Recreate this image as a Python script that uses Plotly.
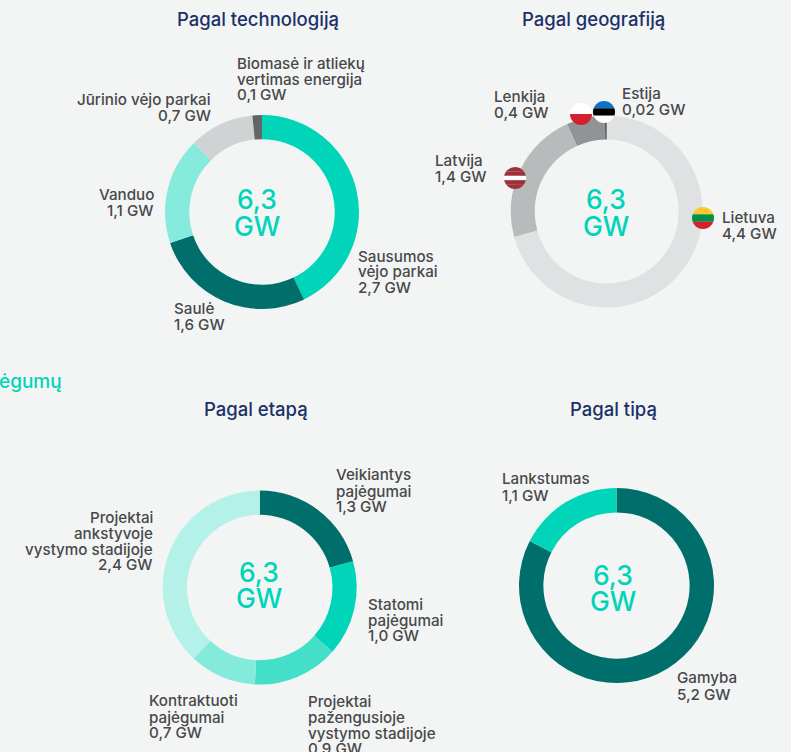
import base64
import plotly.graph_objects as go

W, H = 791, 752
BG = "#f3f5f4"
TEAL = "#00d4b9"
DARK = "#006f6b"
TITLE = "#1c3168"
TEXT = "#48484b"
FONT = "Inter"

# Values (read from the ring arcs)
tech_names = ["Sausumos vėjo parkai", "Saulė", "Vanduo", "Jūrinio vėjo parkai", "Biomasė ir atliekų vertimas energija"]
tech_values = [2.70, 1.70, 1.12, 0.68, 0.10]
tech_colors = [TEAL, DARK, "#86ebdc", "#d1d2d4", "#636466"]

geo_names = ["Lietuva", "Latvija", "Lenkija", "Estija"]
geo_values = [4.4, 1.4, 0.4, 0.02]
geo_colors = ["#e0e1e3", "#b9babc", "#929396", "#58595b"]

stage_names = ["Veikiantys pajėgumai", "Statomi pajėgumai", "Projektai pažengusioje vystymo stadijoje",
               "Kontraktuoti pajėgumai", "Projektai ankstyvoje vystymo stadijoje"]
stage_values = [1.3, 1.0, 0.9, 0.7, 2.4]
stage_colors = [DARK, TEAL, "#43dfc9", "#84ebdc", "#b4f1e8"]

type_names = ["Gamyba", "Lankstumas"]
type_values = [5.2, 1.1]
type_colors = [DARK, TEAL]

# Ring geometry in pixels: centre x, centre y, outer radius
rings = [
    (tech_names, tech_values, tech_colors, 262, 212, 97),
    (geo_names, geo_values, geo_colors, 606.7, 211.5, 96),
    (stage_names, stage_values, stage_colors, 259.7, 587.5, 97),
    (type_names, type_values, type_colors, 616.5, 585.5, 97.5),
]

# Text blocks: lines, anchor, x, y of each line
labels = [
    (["Biomasė ir atliekų", "vertimas energija", "0,1 GW"], "left", 236, [63, 79, 94]),
    (["Jūrinio vėjo parkai", "0,7 GW"], "right", 212, [99.5, 115]),
    (["Vanduo", "1,1 GW"], "right", 155, [194.5, 210]),
    (["Saulė", "1,6 GW"], "left", 173, [309, 324]),
    (["Sausumos", "vėjo parkai", "2,7 GW"], "left", 357, [256, 271.5, 287]),
    (["Lenkija", "0,4 GW"], "left", 493, [96.5, 112]),
    (["Estija", "0,02 GW"], "left", 621, [93.5, 109.5]),
    (["Latvija", "1,4 GW"], "left", 433.5, [160.5, 176]),
    (["Lietuva", "4,4 GW"], "left", 721, [217.5, 233.5]),
    (["Veikiantys", "pajėgumai", "1,3 GW"], "left", 334.5, [474.5, 491, 506]),
    (["Statomi", "pajėgumai", "1,0 GW"], "left", 367, [604, 620, 635.5]),
    (["Projektai", "ankstyvoje", "vystymo stadijoje", "2,4 GW"], "right", 154, [517.5, 533, 549, 564]),
    (["Kontraktuoti", "pajėgumai", "0,7 GW"], "left", 148, [700.5, 717, 732]),
    (["Projektai", "pažengusioje", "vystymo stadijoje", "0,9 GW"], "left", 306.5, [701.5, 717, 733, 748]),
    (["Lankstumas", "1,1 GW"], "left", 501, [478.5, 495]),
    (["Gamyba", "5,2 GW"], "left", 676, [677.5, 694]),
]
titles = [
    ("Pagal technologiją", 258, 19),
    ("Pagal geografiją", 593, 19),
    ("Pagal etapą", 256, 408.5),
    ("Pagal tipą", 613, 408.5),
]
centres = [(257, 198.5, 226), (605.5, 198.5, 226), (259, 571.5, 598), (613, 574.5, 601)]


def px(x):
    return x / W


def py(y):
    return 1 - y / H


def note(text, x, y, anchor, size, color, weight=400):
    return dict(text=text, x=px(x), y=py(y), xref="paper", yref="paper", xanchor=anchor, yanchor="middle",
                showarrow=False, borderpad=0, font=dict(family=FONT, size=size, color=color, weight=weight))


def flag(stripes):
    n = len(stripes)
    rects = "".join(f'<rect x="0" y="{i * 24 / n}" width="24" height="{24 / n + 0.1}" fill="{c}"/>'
                    for i, c in enumerate(stripes))
    svg = ('<svg xmlns="http://www.w3.org/2000/svg" width="96" height="96" viewBox="0 0 24 24">'
           '<defs><clipPath id="c"><circle cx="12" cy="12" r="12"/></clipPath></defs>'
           f'<g clip-path="url(#c)">{rects}</g></svg>')
    return "data:image/svg+xml;base64," + base64.b64encode(svg.encode()).decode()


flags = [
    (["#ffffff", "#d4202c"], 581, 114),
    (["#0f72c4", "#000000", "#ffffff"], 604, 112),
    (["#9e3039", "#9e3039", "#ffffff", "#9e3039", "#9e3039"], 515, 178),
    (["#fdc82f", "#00904a", "#d4202c"], 703, 218),
]
FLAG_R = 11

fig = go.Figure()
for names, values, colors, cx, cy, r in rings:
    fig.add_trace(go.Pie(
        labels=names, values=values, hole=0.75, sort=False, direction="clockwise", rotation=0,
        marker=dict(colors=colors, line=dict(width=0)), textinfo="none", showlegend=False,
        domain=dict(x=[px(cx - r), px(cx + r)], y=[py(cy + r), py(cy - r)]),
    ))

annotations = []
for lines, anchor, x, ys in labels:
    for line, y in zip(lines, ys):
        annotations.append(note(line, x, y, anchor, 15.2, TEXT, 500))
for text, x, y in titles:
    annotations.append(note(text, x, y, "center", 18.5, TITLE, 500))
for x, y1, y2 in centres:
    annotations.append(note("6,3", x, y1, "center", 26.5, TEAL, 500))
    annotations.append(note("GW", x, y2, "center", 26.5, TEAL, 500))
annotations.append(note("ėgumų", 63, 381, "right", 19, TEAL, 500))

images = [dict(source=flag(s), xref="paper", yref="paper", x=px(x - FLAG_R), y=py(y - FLAG_R),
               sizex=2 * FLAG_R / W, sizey=2 * FLAG_R / H, xanchor="left", yanchor="top",
               sizing="stretch", layer="above")
          for s, x, y in flags]

fig.update_layout(
    width=W, height=H, margin=dict(l=0, r=0, t=0, b=0, pad=0),
    paper_bgcolor=BG, plot_bgcolor=BG, annotations=annotations, images=images,
    font=dict(family=FONT),
)
fig.write_html("out.html", config=dict(displayModeBar=False),
               post_script="document.body.style.margin='0';document.body.style.background='%s';" % BG)
